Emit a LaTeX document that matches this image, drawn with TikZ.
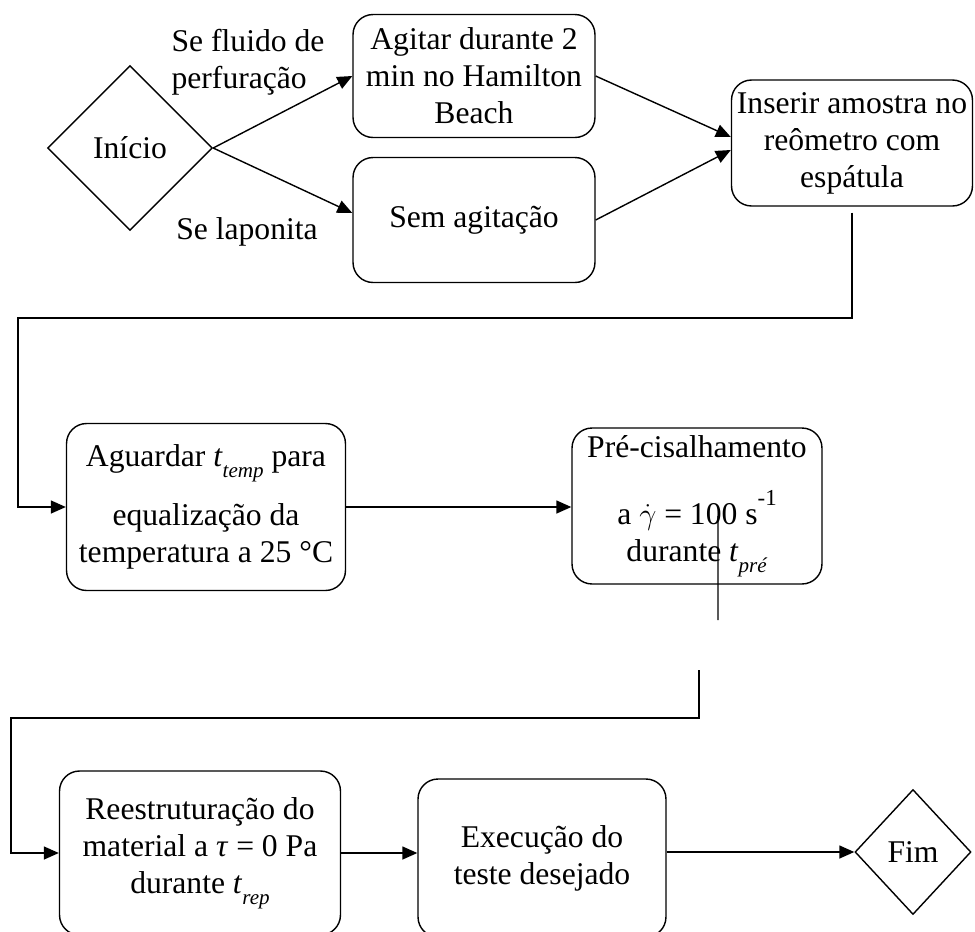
\documentclass[tikz,border=0pt]{standalone}
\usepackage{fontspec}
\setmainfont{Liberation Serif}
\usetikzlibrary{arrows.meta,positioning,shapes.geometric}

\newcommand{\tsub}[1]{\textit{t}\raisebox{-0.35em}{\fontsize{12}{12}\selectfont\textit{#1}}}

\begin{document}
\begin{tikzpicture}[
  x=0.02cm, y=-0.02cm,
  font=\fontsize{18}{21}\selectfont,
  box/.style={draw, rounded corners=0.4cm, align=center, inner sep=2pt, line width=0.8pt},
  decision/.style={draw, diamond, inner sep=0pt, line width=0.8pt},
  arrow/.style={-{Triangle[length=0.3cm, width=0.26cm]}, line width=0.8pt},
  link/.style={line width=0.8pt}
]
\useasboundingbox (0,0) rectangle (975,931);
\clip (0,0) rectangle (975,931);
\node[decision, minimum width=3.3cm, minimum height=3.3cm] (start) at (130,148) {Início};
\node[box, minimum width=4.84cm, minimum height=2.46cm] (agitar) at (474,76) {Agitar durante 2\\min no Hamilton\\Beach};
\node[box, minimum width=4.84cm, minimum height=2.5cm] (sem) at (474,220) {Sem agitação};
\node[box, minimum width=4.82cm, minimum height=2.52cm] (inserir) at (852,143) {Inserir amostra no\\reômetro com\\espátula};
\node[box, minimum width=5.58cm, minimum height=3.34cm] (aguardar) at (206,507) {Aguardar \tsub{temp} para\\[11pt]equalização da\\temperatura a 25 °C};
\node[box, minimum width=5cm, minimum height=3.12cm] (pre) at (697,506) {Pré-cisalhamento\\[17pt]a $\dot{\gamma}$ = 100 s\raisebox{0.6em}{\fontsize{13}{13}\selectfont -1}\\durante \tsub{pré}};
\node[box, minimum width=5.62cm, minimum height=3.28cm] (reestr) at (200,853) {Reestruturação do\\material a \textit{τ} = 0 Pa\\durante \tsub{rep}};
\node[box, minimum width=4.96cm, minimum height=3.16cm] (exec) at (542,858) {Execução do\\teste desejado};
\node[decision, minimum width=2.32cm, minimum height=2.5cm] (fim) at (913,852) {Fim};
\node[align=left] (lblfluido) at (248,62) {Se fluido de\\perfuração};
\node (lbllap) at (247,232) {Se laponita};
\coordinate (bendA) at (18,318);
\coordinate (cutA) at (718,620);
\coordinate (cutB) at (699,670);
\coordinate (bendB) at (11,718);
\draw[arrow] (start.east) -- (agitar.west);
\draw[arrow] (start.east) -- ([yshift=0.14cm]sem.west);
\draw[arrow] (agitar.east) -- ([yshift=0.12cm]inserir.west);
\draw[arrow] (sem.east) -- ([yshift=-0.14cm]inserir.west);
\draw[arrow] ([yshift=-0.12cm]inserir.south) |- (bendA) |- (aguardar.west);
\draw[arrow] (aguardar.east) -- (aguardar.east -| pre.west);
\draw[link] ([xshift=0.42cm,yshift=-0.2cm]pre.center) -- (cutA);
\draw[arrow] (cutB) |- (bendB) |- (reestr.west);
\draw[arrow] (reestr.east) -- (reestr.east -| exec.west);
\draw[arrow] (fim.west -| exec.east) -- (fim.west);
\end{tikzpicture}
\end{document}
